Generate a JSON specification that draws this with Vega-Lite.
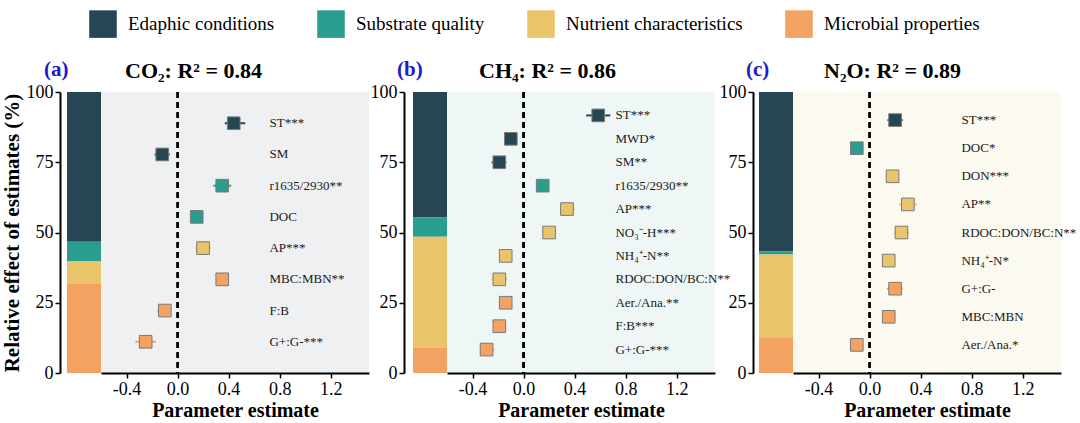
{
  "$schema": "https://vega.github.io/schema/vega-lite/v6.json",
  "padding": {"left": 0, "top": 10, "right": 5, "bottom": 5},
  "config": {
    "font": "Liberation Serif",
    "view": {"stroke": null},
    "axis": {"domainColor": "black", "domainWidth": 2, "tickColor": "black", "tickWidth": 1.5, "tickSize": 5, "labelFontSize": 18, "labelColor": "black", "labelFont": "Liberation Serif", "titleFont": "Liberation Serif", "titleFontSize": 20, "titleFontWeight": "bold", "titleColor": "black", "grid": false},
    "title": {"font": "Liberation Serif", "fontSize": 22, "fontWeight": "bold", "color": "black", "anchor": "start", "frame": "group", "offset": 8},
    "legend": {"orient": "none", "legendX": 22, "legendY": -82, "direction": "horizontal", "title": null, "symbolType": "square", "symbolSize": 760, "symbolStrokeWidth": 0, "symbolOpacity": 1, "labelFont": "Liberation Serif", "labelFontSize": 19, "labelColor": "black", "labelOffset": 11, "columnPadding": 42, "labelLimit": 300}
  },
  "datasets": {
    "bars": [
      {"panel": "CO2", "group": "Edaphic conditions", "share": 53.3, "level": 4},
      {"panel": "CO2", "group": "Substrate quality", "share": 6.8, "level": 3},
      {"panel": "CO2", "group": "Nutrient characteristics", "share": 8.2, "level": 2},
      {"panel": "CO2", "group": "Microbial properties", "share": 31.7, "level": 1},
      {"panel": "CH4", "group": "Edaphic conditions", "share": 44.7, "level": 4},
      {"panel": "CH4", "group": "Substrate quality", "share": 6.8, "level": 3},
      {"panel": "CH4", "group": "Nutrient characteristics", "share": 39.4, "level": 2},
      {"panel": "CH4", "group": "Microbial properties", "share": 9.1, "level": 1},
      {"panel": "N2O", "group": "Edaphic conditions", "share": 56.8, "level": 4},
      {"panel": "N2O", "group": "Substrate quality", "share": 1.0, "level": 3},
      {"panel": "N2O", "group": "Nutrient characteristics", "share": 29.5, "level": 2},
      {"panel": "N2O", "group": "Microbial properties", "share": 12.7, "level": 1}
    ],
    "points": [
      {"panel": "CO2", "var": "ST***", "group": "Edaphic conditions", "est": 0.44, "lo": 0.37, "hi": 0.53},
      {"panel": "CO2", "var": "SM", "group": "Edaphic conditions", "est": -0.12, "lo": -0.18, "hi": -0.06},
      {"panel": "CO2", "var": "r1635/2930**", "group": "Substrate quality", "est": 0.35, "lo": 0.28, "hi": 0.42},
      {"panel": "CO2", "var": "DOC", "group": "Substrate quality", "est": 0.15, "lo": 0.10, "hi": 0.20},
      {"panel": "CO2", "var": "AP***", "group": "Nutrient characteristics", "est": 0.20, "lo": 0.14, "hi": 0.26},
      {"panel": "CO2", "var": "MBC:MBN**", "group": "Microbial properties", "est": 0.35, "lo": 0.30, "hi": 0.40},
      {"panel": "CO2", "var": "F:B", "group": "Microbial properties", "est": -0.10, "lo": -0.16, "hi": -0.05},
      {"panel": "CO2", "var": "G+:G-***", "group": "Microbial properties", "est": -0.25, "lo": -0.33, "hi": -0.17},
      {"panel": "CH4", "var": "ST***", "group": "Edaphic conditions", "est": 0.585, "lo": 0.49, "hi": 0.68},
      {"panel": "CH4", "var": "MWD*", "group": "Edaphic conditions", "est": -0.10, "lo": -0.135, "hi": -0.05},
      {"panel": "CH4", "var": "SM**", "group": "Edaphic conditions", "est": -0.19, "lo": -0.25, "hi": -0.135},
      {"panel": "CH4", "var": "r1635/2930**", "group": "Substrate quality", "est": 0.15, "lo": 0.10, "hi": 0.19},
      {"panel": "CH4", "var": "AP***", "group": "Nutrient characteristics", "est": 0.34, "lo": 0.285, "hi": 0.40},
      {"panel": "CH4", "var": "NO₃⁻-H***", "group": "Nutrient characteristics", "est": 0.20, "lo": 0.15, "hi": 0.24},
      {"panel": "CH4", "var": "NH₄⁺-N**", "group": "Nutrient characteristics", "est": -0.14, "lo": -0.19, "hi": -0.10},
      {"panel": "CH4", "var": "RDOC:DON/BC:N**", "group": "Nutrient characteristics", "est": -0.19, "lo": -0.25, "hi": -0.13},
      {"panel": "CH4", "var": "Aer./Ana.**", "group": "Microbial properties", "est": -0.14, "lo": -0.19, "hi": -0.10},
      {"panel": "CH4", "var": "F:B***", "group": "Microbial properties", "est": -0.19, "lo": -0.24, "hi": -0.15},
      {"panel": "CH4", "var": "G+:G-***", "group": "Microbial properties", "est": -0.29, "lo": -0.34, "hi": -0.23},
      {"panel": "N2O", "var": "ST***", "group": "Edaphic conditions", "est": 0.20, "lo": 0.14, "hi": 0.26},
      {"panel": "N2O", "var": "DOC*", "group": "Substrate quality", "est": -0.10, "lo": -0.15, "hi": -0.05},
      {"panel": "N2O", "var": "DON***", "group": "Nutrient characteristics", "est": 0.18, "lo": 0.13, "hi": 0.23},
      {"panel": "N2O", "var": "AP**", "group": "Nutrient characteristics", "est": 0.30, "lo": 0.23, "hi": 0.37},
      {"panel": "N2O", "var": "RDOC:DON/BC:N**", "group": "Nutrient characteristics", "est": 0.25, "lo": 0.19, "hi": 0.31},
      {"panel": "N2O", "var": "NH₄⁺-N*", "group": "Nutrient characteristics", "est": 0.15, "lo": 0.10, "hi": 0.20},
      {"panel": "N2O", "var": "G+:G-", "group": "Microbial properties", "est": 0.20, "lo": 0.135, "hi": 0.26},
      {"panel": "N2O", "var": "MBC:MBN", "group": "Microbial properties", "est": 0.15, "lo": 0.10, "hi": 0.20},
      {"panel": "N2O", "var": "Aer./Ana.*", "group": "Microbial properties", "est": -0.10, "lo": -0.15, "hi": -0.05}
    ]
  },
  "bounds": "flush",
  "spacing": 0,
  "resolve": {"scale": {"color": "shared"}},
  "hconcat": [
    {
      "width": 34, "height": 281,
      "title": {"text": "(a)", "color": "#1a1acc", "fontWeight": "bold", "fontSize": 21, "dx": -23, "offset": 3},
      "data": {"name": "bars"},
      "transform": [{"filter": "datum.panel === 'CO2'"}],
      "mark": {"type": "bar"},
      "encoding": {
        "x": {"field": "panel", "type": "nominal", "scale": {"paddingInner": 0, "paddingOuter": 0}, "axis": null},
        "y": {"field": "share", "type": "quantitative", "stack": "zero", "scale": {"domain": [0, 100], "nice": false}, "axis": {"values": [0, 25, 50, 75, 100], "offset": 7, "labelPadding": 2, "title": "Relative effect of estimates (%)", "titlePadding": 4, "titleFontSize": 21}},
        "color": {"field": "group", "type": "nominal", "scale": {"domain": ["Edaphic conditions", "Substrate quality", "Nutrient characteristics", "Microbial properties"], "range": ["#264653", "#2a9d8f", "#e9c46a", "#f4a261"]}},
        "order": {"field": "level", "type": "quantitative"}
      }
    },
    {
      "width": 268, "height": 281,
      "title": {"text": "CO₂: R² = 0.84", "dx": 24},
      "view": {"fill": "#eff0f2", "stroke": null},
      "data": {"name": "points"},
      "transform": [{"filter": "datum.panel === 'CO2'"}],
      "encoding": {
        "y": {"field": "var", "type": "nominal", "sort": null, "scale": {"type": "point", "padding": 1}, "axis": null}
      },
      "layer": [
        {"mark": {"type": "rule", "strokeDash": [6, 4], "strokeWidth": 1.5, "color": "black"}, "encoding": {"x": {"datum": 0, "type": "quantitative", "scale": {"domain": [-0.6, 1.5], "nice": false, "zero": false}, "axis": {"values": [-0.4, 0, 0.4, 0.8, 1.2], "labelExpr": "replace(format(datum.value, '.1f'), '−', '-')", "title": "Parameter estimate", "titlePadding": 2}}, "y": null}},
        {"mark": {"type": "rule", "strokeWidth": 2}, "encoding": {"x": {"field": "lo", "type": "quantitative"}, "x2": {"field": "hi"}, "color": {"field": "group", "type": "nominal"}}},
        {"mark": {"type": "point", "shape": "square", "filled": true, "size": 160, "stroke": "#7a7a7a", "strokeWidth": 1, "opacity": 1}, "encoding": {"x": {"field": "est", "type": "quantitative"}, "color": {"field": "group", "type": "nominal"}}},
        {"mark": {"type": "text", "align": "left", "baseline": "middle", "fontSize": 13, "color": "#1a1a1a"}, "encoding": {"x": {"datum": 0.72, "type": "quantitative"}, "text": {"field": "var"}}}
      ]
    },
    {
      "width": 78, "height": 281,
      "title": {"text": "(b)", "color": "#1a1acc", "fontWeight": "bold", "fontSize": 21, "dx": 28, "offset": 3},
      "data": {"name": "bars"},
      "transform": [{"filter": "datum.panel === 'CH4'"}],
      "mark": {"type": "bar"},
      "encoding": {
        "x": {"field": "panel", "type": "nominal", "scale": {"paddingInner": 0, "paddingOuter": 0.647, "align": 1}, "axis": null},
        "y": {"field": "share", "type": "quantitative", "stack": "zero", "scale": {"domain": [0, 100], "nice": false}, "axis": {"values": [0, 25, 50, 75, 100], "offset": -35, "labelPadding": 2, "title": null}},
        "color": {"field": "group", "type": "nominal"},
        "order": {"field": "level", "type": "quantitative"}
      }
    },
    {
      "width": 268, "height": 281,
      "title": {"text": "CH₄: R² = 0.86", "dx": 32},
      "view": {"fill": "#eef6f6", "stroke": null},
      "data": {"name": "points"},
      "transform": [{"filter": "datum.panel === 'CH4'"}],
      "encoding": {
        "y": {"field": "var", "type": "nominal", "sort": null, "scale": {"type": "point", "padding": 1}, "axis": null}
      },
      "layer": [
        {"mark": {"type": "rule", "strokeDash": [6, 4], "strokeWidth": 1.5, "color": "black"}, "encoding": {"x": {"datum": 0, "type": "quantitative", "scale": {"domain": [-0.6, 1.5], "nice": false, "zero": false}, "axis": {"values": [-0.4, 0, 0.4, 0.8, 1.2], "labelExpr": "replace(format(datum.value, '.1f'), '−', '-')", "title": "Parameter estimate", "titlePadding": 2}}, "y": null}},
        {"mark": {"type": "rule", "strokeWidth": 2}, "encoding": {"x": {"field": "lo", "type": "quantitative"}, "x2": {"field": "hi"}, "color": {"field": "group", "type": "nominal"}}},
        {"mark": {"type": "point", "shape": "square", "filled": true, "size": 160, "stroke": "#7a7a7a", "strokeWidth": 1, "opacity": 1}, "encoding": {"x": {"field": "est", "type": "quantitative"}, "color": {"field": "group", "type": "nominal"}}},
        {"mark": {"type": "text", "align": "left", "baseline": "middle", "fontSize": 13, "color": "#1a1a1a"}, "encoding": {"x": {"datum": 0.72, "type": "quantitative"}, "text": {"field": "var"}}}
      ]
    },
    {
      "width": 78, "height": 281,
      "title": {"text": "(c)", "color": "#1a1acc", "fontWeight": "bold", "fontSize": 21, "dx": 31, "offset": 3},
      "data": {"name": "bars"},
      "transform": [{"filter": "datum.panel === 'N2O'"}],
      "mark": {"type": "bar"},
      "encoding": {
        "x": {"field": "panel", "type": "nominal", "scale": {"paddingInner": 0, "paddingOuter": 0.647, "align": 1}, "axis": null},
        "y": {"field": "share", "type": "quantitative", "stack": "zero", "scale": {"domain": [0, 100], "nice": false}, "axis": {"values": [0, 25, 50, 75, 100], "offset": -38, "labelPadding": 2, "title": null}},
        "color": {"field": "group", "type": "nominal"},
        "order": {"field": "level", "type": "quantitative"}
      }
    },
    {
      "width": 268, "height": 281,
      "title": {"text": "N₂O: R² = 0.89", "dx": 31},
      "view": {"fill": "#fcf9f1", "stroke": null},
      "data": {"name": "points"},
      "transform": [{"filter": "datum.panel === 'N2O'"}],
      "encoding": {
        "y": {"field": "var", "type": "nominal", "sort": null, "scale": {"type": "point", "padding": 1}, "axis": null}
      },
      "layer": [
        {"mark": {"type": "rule", "strokeDash": [6, 4], "strokeWidth": 1.5, "color": "black"}, "encoding": {"x": {"datum": 0, "type": "quantitative", "scale": {"domain": [-0.6, 1.5], "nice": false, "zero": false}, "axis": {"values": [-0.4, 0, 0.4, 0.8, 1.2], "labelExpr": "replace(format(datum.value, '.1f'), '−', '-')", "title": "Parameter estimate", "titlePadding": 2}}, "y": null}},
        {"mark": {"type": "rule", "strokeWidth": 2}, "encoding": {"x": {"field": "lo", "type": "quantitative"}, "x2": {"field": "hi"}, "color": {"field": "group", "type": "nominal"}}},
        {"mark": {"type": "point", "shape": "square", "filled": true, "size": 160, "stroke": "#7a7a7a", "strokeWidth": 1, "opacity": 1}, "encoding": {"x": {"field": "est", "type": "quantitative"}, "color": {"field": "group", "type": "nominal"}}},
        {"mark": {"type": "text", "align": "left", "baseline": "middle", "fontSize": 13, "color": "#1a1a1a"}, "encoding": {"x": {"datum": 0.72, "type": "quantitative"}, "text": {"field": "var"}}}
      ]
    }
  ]
}
